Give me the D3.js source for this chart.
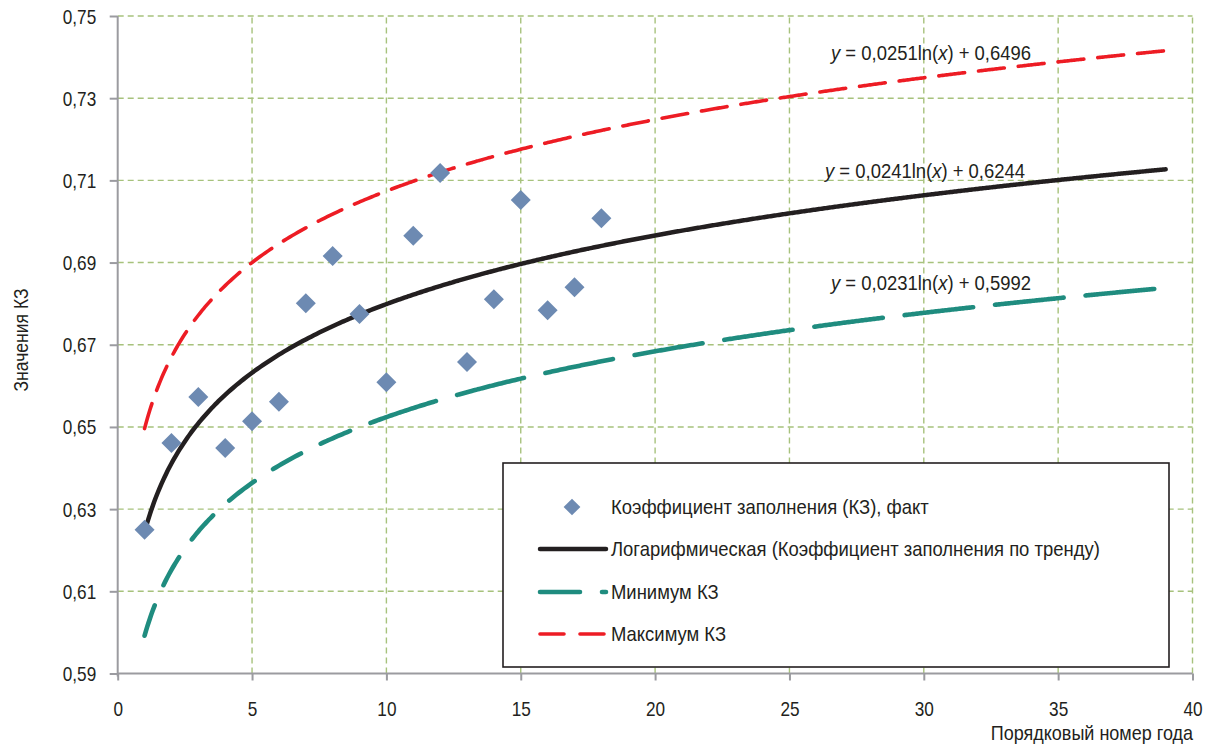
<!DOCTYPE html>
<html>
<head>
<meta charset="utf-8">
<script src="https://cdn.jsdelivr.net/npm/d3@7"></script>
<style>
  html, body { margin: 0; padding: 0; background: #fff; }
  svg { display: block; }
  text { font-family: "Liberation Sans", Arial, sans-serif; fill: #231f20; }
</style>
</head>
<body>
<svg id="chart" width="1214" height="745"></svg>
<script>
// Observed fill factor (КЗ) by year number
const years = [1, 2, 3, 4, 5, 6, 7, 8, 9, 10, 11, 12, 13, 14, 15, 16, 17, 18];
const factValues = [0.625, 0.6461, 0.6573, 0.6449, 0.6514, 0.6561, 0.6801, 0.6916, 0.6775,
                    0.6609, 0.6965, 0.7118, 0.6658, 0.6811, 0.7052, 0.6784, 0.6840, 0.7008];

// Logarithmic trends y = a·ln(x) + b
const trendNames = ["Максимум КЗ", "Логарифмическая (Коэффициент заполнения по тренду)", "Минимум КЗ"];
const trendA = [0.0251, 0.0241, 0.0231];
const trendB = [0.6496, 0.6244, 0.5992];
const trendRange = [1, 39];

// Axis ticks
const xTicks = [0, 5, 10, 15, 20, 25, 30, 35, 40];
const yTicks = [0.59, 0.61, 0.63, 0.65, 0.67, 0.69, 0.71, 0.73, 0.75];

const fmtComma = d => d3.format(".2f")(d).replace(".", ",");
const fmtCoef = d => String(d).replace(".", ",");

// narrow (condensed) text: horizontal squeeze of a regular sans face
const NARROW = 0.9;

const svg = d3.select("#chart");
const x = d3.scaleLinear().domain([0, 40]).range([117.7, 1192.5]);
const y = d3.scaleLinear().domain([0.59, 0.75]).range([673.5, 16]);

const gridColor = "#a7c27c";
const axisColor = "#9b9ba0";

function narrowText(parent, px, py, size, anchor) {
  return parent.append("text")
    .attr("transform", `translate(${px},${py}) scale(${NARROW},1)`)
    .attr("font-size", size)
    .attr("text-anchor", anchor || "start");
}

// Grid
const grid = svg.append("g");
grid.selectAll("line.h").data(yTicks.slice(1)).join("line")
  .attr("x1", x(0)).attr("x2", x(40))
  .attr("y1", d => y(d)).attr("y2", d => y(d))
  .attr("stroke", gridColor).attr("stroke-width", 1.4).attr("stroke-dasharray", "6,4");
grid.selectAll("line.v").data(xTicks.slice(1)).join("line")
  .attr("y1", y(0.59)).attr("y2", y(0.75))
  .attr("x1", d => x(d)).attr("x2", d => x(d))
  .attr("stroke", gridColor).attr("stroke-width", 1.4).attr("stroke-dasharray", "6,4");

// Axes
const yAxis = svg.append("g").attr("transform", `translate(${x(0)},0)`)
  .call(d3.axisLeft(y).tickValues(yTicks).tickFormat(fmtComma).tickSize(8).tickPadding(0));
const xAxis = svg.append("g").attr("transform", `translate(0,${y(0.59)})`)
  .call(d3.axisBottom(x).tickValues(xTicks).tickFormat(d3.format("d")).tickSize(7).tickPadding(0));
[yAxis, xAxis].forEach(g => {
  g.select(".domain").attr("stroke", axisColor).attr("stroke-width", 2);
  g.selectAll(".tick line").attr("stroke", axisColor).attr("stroke-width", 2);
  g.selectAll(".tick text").attr("font-size", 20).attr("fill", "#231f20")
    .style("font-family", '"Liberation Sans", Arial, sans-serif');
});
yAxis.selectAll(".tick text")
  .attr("x", null).attr("dy", null).attr("y", 7)
  .attr("transform", `translate(-21.5,0) scale(0.86,1)`);
xAxis.selectAll(".tick text")
  .attr("y", null).attr("dy", null)
  .attr("transform", `translate(0,42) scale(0.86,1)`);
yAxis.select(".domain").attr("d", `M0,${y(0.75)}V${y(0.59) + 3}`);
xAxis.select(".domain").attr("d", `M${x(0)},0H${x(40)}`);

// Axis titles
narrowText(svg, 1193, 740, 20, "end").text("Порядковый номер года");
svg.append("text").attr("transform", `translate(28,340) rotate(-90) scale(${NARROW},1)`)
  .attr("text-anchor", "middle").attr("font-size", 19.5).text("Значения КЗ");

// Trend curves
const trendStyles = [
  { color: "#ed1c24", width: 3.6, dash: "26,14" },
  { color: "#231f20", width: 4.5, dash: null },
  { color: "#1f8c7f", width: 4.6, dash: "32,22,32,22,32,22,32,22,32,22,32,22" + ",69,22".repeat(30) }
];
const line = d3.line().x(d => x(d[0])).y(d => y(d[1])).curve(d3.curveMonotoneX);
const xs = d3.range(trendRange[0], trendRange[1] + 0.0001, 0.1);
trendA.forEach((a, i) => {
  const pts = xs.map(v => [v, a * Math.log(v) + trendB[i]]);
  const st = trendStyles[i];
  svg.append("path").attr("d", line(pts)).attr("fill", "none")
    .attr("stroke", st.color).attr("stroke-width", st.width)
    .attr("stroke-linecap", "round")
    .attr("stroke-dasharray", st.dash);
});

// Fact points (diamonds)
const diamond = d3.symbol().type(d3.symbolSquare).size(200);
svg.append("g").selectAll("path").data(years).join("path")
  .attr("d", diamond)
  .attr("transform", (d, i) => `translate(${x(d)},${y(factValues[i])}) rotate(45)`)
  .attr("fill", "#6d8ab2");

// Trend equations
const eqPos = [[831, 60], [825, 178], [831, 290]];
const eqGap = [" ", "  ", "  "];
trendA.forEach((a, i) => {
  const t = narrowText(svg, eqPos[i][0], eqPos[i][1], 20.5);
  t.append("tspan").attr("font-style", "italic").text("y");
  t.append("tspan").text(`${eqGap[i]}= ${fmtCoef(a)}ln(`);
  t.append("tspan").attr("font-style", "italic").text("x");
  t.append("tspan").text(`) + ${fmtCoef(trendB[i])}`);
});

// Legend
const lg = svg.append("g");
lg.append("rect").attr("x", 503).attr("y", 463).attr("width", 666).attr("height", 204)
  .attr("fill", "#fff").attr("stroke", "#231f20").attr("stroke-width", 1.6);
const legendItems = [
  { label: "Коэффициент заполнения (КЗ), факт", kind: "point" },
  { label: trendNames[1], kind: 1 },
  { label: trendNames[2], kind: 2 },
  { label: trendNames[0], kind: 0 }
];
const legendY = [507, 549, 592, 634];
legendItems.forEach((it, i) => {
  const cy = legendY[i];
  if (it.kind === "point") {
    lg.append("path").attr("d", d3.symbol().type(d3.symbolSquare).size(140))
      .attr("transform", `translate(572,${cy}) rotate(45)`).attr("fill", "#6d8ab2");
  } else {
    const st = trendStyles[it.kind];
    lg.append("line").attr("x1", 540).attr("x2", 606).attr("y1", cy).attr("y2", cy)
      .attr("stroke", st.color).attr("stroke-width", st.width).attr("stroke-linecap", "round")
      .attr("stroke-dasharray", it.kind === 2 ? "40,22" : (it.kind === 0 ? "24,16" : null));
  }
  narrowText(lg, 611, cy + 7, 20.5).text(it.label);
});
</script>
</body>
</html>
